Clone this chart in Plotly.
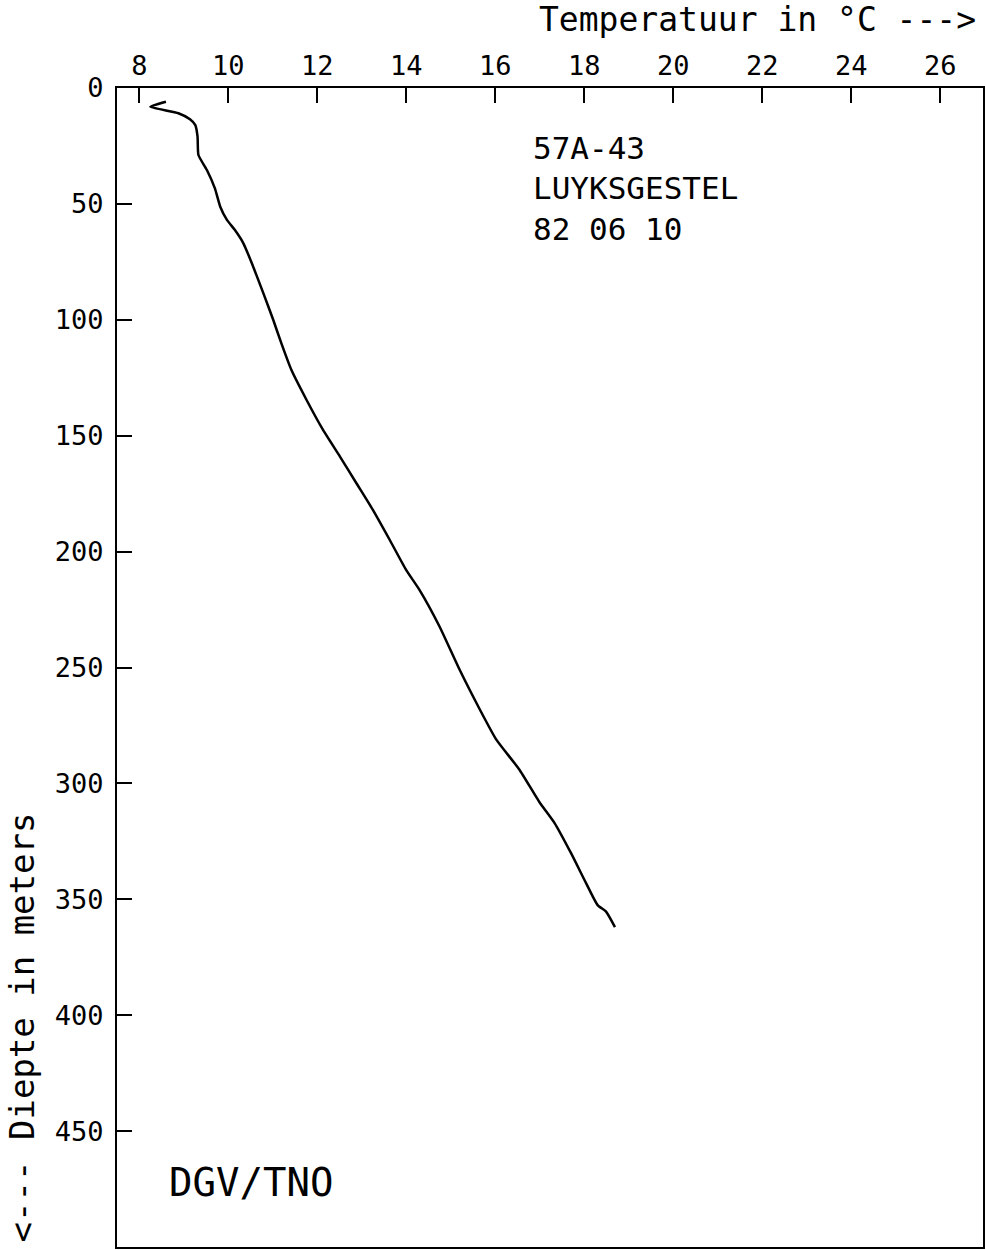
import plotly.graph_objects as go

# Temperature log 57A-43 Luyksgestel, 82 06 10
temperature_c = [8.60, 8.25, 8.88, 9.14, 9.26, 9.31, 9.33, 9.52, 9.70, 9.82, 9.97, 10.15,
                 10.34, 10.53, 10.79, 11.01, 11.20, 11.42, 11.76, 12.13, 12.51, 12.88,
                 13.25, 13.63, 14.00, 14.30, 14.75, 15.20, 15.65, 16.02, 16.54, 16.99,
                 17.33, 17.70, 18.04, 18.30, 18.49, 18.69]
depth_m = [5.9, 8.1, 10.9, 13.5, 16, 21, 28.9, 35.4, 43.3, 51.2, 56.9, 61.3,
           67, 75.6, 88.6, 100, 110.5, 121.7, 134.6, 147.5, 159, 170.5,
           182, 195, 208, 216.6, 232.4, 251, 268, 281, 294, 308,
           317, 330, 343, 352.5, 355.3, 362]

x_ticks = [8, 10, 12, 14, 16, 18, 20, 22, 24, 26]
y_ticks = [0, 50, 100, 150, 200, 250, 300, 350, 400, 450]
info_lines = ["57A-43", "LUYKSGESTEL", "82 06 10"]
credit = "DGV/TNO"
x_title = "Temperatuur in °C --->"
y_title = "<--- Diepte in meters"

FONT = "DejaVu Sans Mono"

fig = go.Figure()
fig.add_trace(go.Scatter(x=temperature_c, y=depth_m, mode="lines",
                         line=dict(color="black", width=2.5, shape="spline",
                                   smoothing=0.5),
                         showlegend=False, hoverinfo="skip"))

fig.update_layout(
    width=986, height=1250,
    margin=dict(l=117, r=1, t=88, b=2),
    paper_bgcolor="white", plot_bgcolor="white",
    font=dict(family=FONT, color="black"),
    showlegend=False,
)

fig.update_xaxes(
    range=[7.5, 26.96], side="top", tickvals=x_ticks,
    ticktext=[str(v) for v in x_ticks],
    ticks="inside", ticklen=15, tickwidth=2, tickcolor="black",
    showline=True, linecolor="black", linewidth=2, mirror=True,
    showgrid=False, zeroline=False,
    tickfont=dict(family=FONT, size=27, color="black"),
    ticklabelstandoff=0,
)
fig.update_yaxes(
    range=[500, 0], tickvals=y_ticks,
    ticktext=[str(v) for v in y_ticks],
    ticks="inside", ticklen=15, tickwidth=2, tickcolor="black",
    showline=True, linecolor="black", linewidth=2, mirror=True,
    showgrid=False, zeroline=False,
    tickfont=dict(family=FONT, size=27, color="black"),
    ticklabelstandoff=6,
)

# info text block (one multi-line text)
fig.add_annotation(x=16.8, y=43.3, xref="x", yref="y",
                   text="<br>".join(info_lines), align="left",
                   showarrow=False, xanchor="left", yanchor="middle",
                   font=dict(family=FONT, size=31, color="black"))

fig.add_annotation(x=8.62, y=472.2, xref="x", yref="y", text=credit,
                   showarrow=False, xanchor="left", yanchor="middle",
                   font=dict(family=FONT, size=39, color="black"))

fig.add_annotation(x=(538 - 117) / 868, y=1, xref="paper", yref="paper",
                   yshift=68.5, text=x_title, showarrow=False,
                   xanchor="left", yanchor="middle",
                   font=dict(family=FONT, size=33, color="black"))

fig.add_annotation(x=(22 - 117) / 868, y=1 - (1028 - 88) / 1160,
                   xref="paper", yref="paper", text=y_title, textangle=-90,
                   showarrow=False, xanchor="center", yanchor="middle",
                   font=dict(family=FONT, size=34, color="black"))

fig.write_html("out.html")
